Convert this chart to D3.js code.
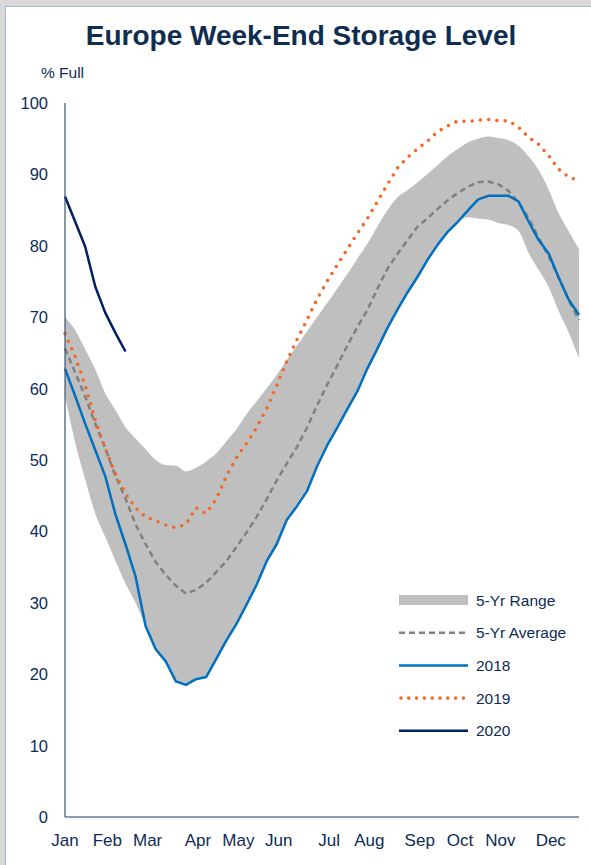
<!DOCTYPE html>
<html>
<head>
<meta charset="utf-8">
<script src="https://cdn.jsdelivr.net/npm/d3@7"></script>
<style>
  body { margin: 0; background: #d9d9d9; }
  text { font-family: "Liberation Sans", Arial, sans-serif; }
</style>
</head>
<body>
<div id="chart"></div>
<script>
// weekly values, week 0 = first week of January
const weeks = d3.range(52);

const rangeHigh = [70.0, 68.2, 65.5, 62.7, 59.3, 57.0, 54.6, 53.0, 51.5, 50.0,
  49.3, 49.2, 48.4, 48.9, 49.8, 50.9, 52.6, 54.3, 56.4, 58.2,
  60.0, 61.9, 64.0, 66.0, 68.0, 70.0, 72.0, 74.0, 76.0, 78.2,
  80.3, 82.7, 85.0, 86.8, 87.8, 88.9, 90.1, 91.3, 92.6, 93.6,
  94.5, 95.0, 95.3, 95.1, 94.8, 94.0, 92.5, 90.6, 87.8, 84.5,
  82.0, 79.5];

const rangeLow = [59.0, 52.5, 47.3, 42.5, 39.2, 35.9, 32.7, 30.0, 26.7, 23.5,
  21.8, 19.0, 18.5, 19.3, 19.6, 22.1, 24.7, 27.0, 29.7, 32.5,
  35.8, 38.2, 41.6, 43.5, 45.6, 49.1, 52.0, 54.5, 57.1, 59.6,
  62.8, 65.6, 68.5, 71.1, 73.5, 75.7, 78.1, 80.2, 82.0, 83.4,
  84.0, 83.8, 83.7, 83.2, 82.9, 82.1, 79.0, 76.6, 74.2, 70.8,
  67.8, 64.2];

const avg5 = [65.6, 62.3, 58.9, 55.1, 51.6, 47.8, 44.6, 41.0, 38.2, 35.7,
  33.9, 32.4, 31.3, 31.8, 32.8, 34.3, 35.8, 37.8, 39.8, 42.0,
  44.5, 47.1, 49.5, 51.8, 54.5, 57.6, 60.5, 63.2, 66.0, 68.6,
  71.0, 74.0, 76.8, 78.9, 80.8, 82.7, 83.9, 85.2, 86.4, 87.4,
  88.3, 88.9, 89.0, 88.6, 87.7, 86.1, 83.9, 81.1, 78.5, 75.5,
  72.3, 69.6];

const y2018 = [62.8, 59.0, 55.1, 51.4, 47.7, 42.4, 38.2, 33.7, 26.7, 23.5,
  21.8, 19.0, 18.5, 19.3, 19.6, 22.1, 24.7, 27.0, 29.7, 32.5,
  35.8, 38.2, 41.6, 43.5, 45.6, 49.1, 52.0, 54.5, 57.1, 59.6,
  62.8, 65.6, 68.5, 71.1, 73.5, 75.7, 78.1, 80.2, 82.0, 83.4,
  85.0, 86.5, 87.0, 87.0, 87.0, 86.2, 83.4, 80.8, 78.9, 75.5,
  72.4, 70.3];

const y2019 = [67.7, 64.5, 60.5, 55.6, 51.6, 48.0, 45.3, 43.3, 42.0, 41.5,
  40.9, 40.5, 41.0, 43.3, 42.5, 44.5, 47.7, 50.3, 52.3, 54.5,
  57.2, 60.4, 63.8, 66.8, 69.6, 72.5, 75.0, 77.3, 79.5, 81.7,
  83.8, 86.2, 88.6, 90.9, 92.4, 93.6, 94.7, 96.0, 96.8, 97.5,
  97.4, 97.6, 97.7, 97.5, 97.5, 96.6, 95.2, 94.2, 92.6, 90.7,
  89.6, 89.1];

const y2020 = [86.9, 83.4, 79.9, 74.3, 70.6, 67.8, 65.2];

const monthLabels = ["Jan", "Feb", "Mar", "Apr", "May", "Jun", "Jul", "Aug", "Sep", "Oct", "Nov", "Dec"];
const monthWeeks = [0, 4, 8, 13, 17, 21, 26, 30, 35, 39, 43, 48];
const yTicks = d3.range(0, 101, 10);

const W = 591, H = 865;
const navy = "#0d2b57";

const svg = d3.select("#chart").append("svg")
  .attr("width", W)
  .attr("height", H);

// slide frame
svg.append("rect")
  .attr("x", 5.5).attr("y", 6.5)
  .attr("width", W).attr("height", H)
  .attr("fill", "#fff")
  .attr("stroke", "#9fb6d6");

let x = d3.scaleLinear().domain([0, 51]).range([65, 579]);
let y = d3.scaleLinear().domain([0, 100]).range([817, 103]);

// title
svg.append("text")
  .attr("x", 301).attr("y", 45)
  .attr("text-anchor", "middle")
  .attr("font-size", 28)
  .attr("font-weight", "bold")
  .attr("fill", "#0f2d4f")
  .text("Europe Week-End Storage Level");

svg.append("text")
  .attr("x", 41).attr("y", 78)
  .attr("font-size", 15.5)
  .attr("fill", navy)
  .text("% Full");

// 5-yr range
svg.append("path")
  .datum(weeks)
  .attr("fill", "#bfbfbf")
  .attr("d", d3.area()
    .x(function(d) { return x(d); })
    .y0(function(d) { return y(rangeLow[d]); })
    .y1(function(d) { return y(rangeHigh[d]); })
    .curve(d3.curveMonotoneX));

function drawLine(values, color, width, dash, cap) {
  svg.append("path")
    .datum(values)
    .attr("fill", "none")
    .attr("stroke", color)
    .attr("stroke-width", width)
    .attr("stroke-dasharray", dash)
    .attr("stroke-linecap", cap || "butt")
    .attr("stroke-linejoin", "round")
    .attr("d", d3.line()
      .x(function(d, i) { return x(i); })
      .y(function(d) { return y(d); }));
}

drawLine(avg5, "#808080", 2.5, "6,4");
drawLine(y2018, "#0070c0", 2.5, null);
drawLine(y2019, "#f26a2a", 3.6, "0,8.3", "round");
drawLine(y2020, "#002060", 2.5, null);

// axes
svg.append("line")
  .attr("x1", 65).attr("x2", 65)
  .attr("y1", y(100)).attr("y2", y(0))
  .attr("stroke", "#3b5372").attr("stroke-width", 1.2);

svg.append("line")
  .attr("x1", 65).attr("x2", 579)
  .attr("y1", y(0)).attr("y2", y(0))
  .attr("stroke", "#1f3864").attr("stroke-width", 1.2);

svg.selectAll("text.ytick").data(yTicks).enter()
  .append("text")
  .attr("class", "ytick")
  .attr("x", 48)
  .attr("y", function(d) { return y(d) + 6; })
  .attr("text-anchor", "end")
  .attr("font-size", 16.5)
  .attr("fill", navy)
  .text(function(d) { return d; });

svg.selectAll("text.xtick").data(monthLabels).enter()
  .append("text")
  .attr("class", "xtick")
  .attr("x", function(d, i) { return x(monthWeeks[i]) + (i === 0 ? 0 : 2); })
  .attr("y", 846)
  .attr("text-anchor", "middle")
  .attr("font-size", 17)
  .attr("fill", navy)
  .text(function(d) { return d; });

// legend
const legendItems = ["5-Yr Range", "5-Yr Average", "2018", "2019", "2020"];
const lg = svg.append("g");
legendItems.forEach(function(name, i) {
  const cy = 600 + i * 32.7;
  if (i === 0) {
    lg.append("rect").attr("x", 399).attr("y", cy - 5)
      .attr("width", 69).attr("height", 10).attr("fill", "#bfbfbf");
  } else {
    const st = [null,
      {c: "#808080", w: 2.5, d: "6,4", cap: "butt"},
      {c: "#0070c0", w: 2.5, d: null, cap: "butt"},
      {c: "#f26a2a", w: 3.6, d: "0,7.8", cap: "round"},
      {c: "#002060", w: 2.5, d: null, cap: "butt"}][i];
    lg.append("line")
      .attr("x1", i === 3 ? 401 : 399).attr("x2", 468)
      .attr("y1", cy).attr("y2", cy)
      .attr("stroke", st.c).attr("stroke-width", st.w)
      .attr("stroke-dasharray", st.d)
      .attr("stroke-linecap", st.cap);
  }
  lg.append("text")
    .attr("x", 476).attr("y", cy + 5.5)
    .attr("font-size", 15.5)
    .attr("fill", navy)
    .text(name);
});
</script>
</body>
</html>
